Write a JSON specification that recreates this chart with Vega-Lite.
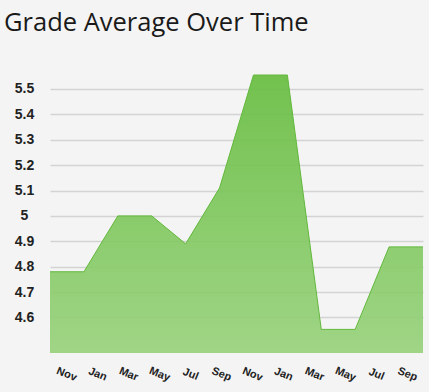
{
  "$schema": "https://vega.github.io/schema/vega-lite/v6.json",
  "autosize": {"type": "none"},
  "width": 373,
  "height": 278,
  "padding": {"left": 50, "top": 75, "right": 6, "bottom": 39},
  "background": "#f4f4f4",
  "title": {"text": "Grade Average Over Time", "anchor": "start", "frame": "group", "dx": -46, "offset": 37, "font": "Open Sans", "fontSize": 25.5, "fontWeight": "normal", "color": "#1a1a1a"},
  "data": {"values": [
    {"i": 0, "month": "Nov", "grade": 4.78},
    {"i": 1, "month": "Jan", "grade": 4.78},
    {"i": 2, "month": "Mar", "grade": 5.0},
    {"i": 3, "month": "May", "grade": 5.0},
    {"i": 4, "month": "Jul", "grade": 4.89},
    {"i": 5, "month": "Sep", "grade": 5.11},
    {"i": 6, "month": "Nov", "grade": 5.555},
    {"i": 7, "month": "Jan", "grade": 5.555},
    {"i": 8, "month": "Mar", "grade": 4.553},
    {"i": 9, "month": "May", "grade": 4.553},
    {"i": 10, "month": "Jul", "grade": 4.878},
    {"i": 11, "month": "Sep", "grade": 4.878}
  ]},
  "config": {"view": {"stroke": null}, "axis": {"domain": false, "ticks": false}},
  "layer": [
    {
      "mark": {"type": "area", "opacity": 0.92, "line": {"color": "#62b83c", "strokeWidth": 1},
        "color": {"gradient": "linear", "x1": 0, "y1": 0, "x2": 0, "y2": 1,
          "stops": [{"offset": 0, "color": "#67bd40"}, {"offset": 1, "color": "#98d27c"}]}},
      "encoding": {
        "x": {"field": "i", "type": "ordinal", "scale": {"type": "point", "padding": 0}, "axis": null},
        "y": {"field": "grade", "type": "quantitative", "scale": {"domain": [4.46, 5.555], "nice": false, "zero": false},
          "axis": {"title": null, "values": [4.6, 4.7, 4.8, 4.9, 5.0, 5.1, 5.2, 5.3, 5.4, 5.5], "labelOverlap": false, "labelExpr": "datum.value == 5 ? '5' : format(datum.value, '.1f')", "labelFont": "Liberation Sans", "labelFontWeight": "bold", "labelFontSize": 14, "labelColor": "#222222", "labelAlign": "center", "labelPadding": 26, "gridColor": "#d3d3d3", "gridWidth": 1.5}},
        "y2": {"datum": 4.46}
      }
    },
    {
      "mark": {"type": "tick", "opacity": 0},
      "encoding": {
        "x": {"field": "i", "type": "ordinal", "scale": {"type": "point", "padding": 0.52},
          "axis": {"title": null, "orient": "bottom", "grid": false, "labelAngle": 22, "labelAlign": "center", "labelBaseline": "middle", "labelPadding": 21, "labelOverlap": false,
            "labelExpr": "['Nov','Jan','Mar','May','Jul','Sep','Nov','Jan','Mar','May','Jul','Sep'][datum.value]",
            "labelFont": "Liberation Sans", "labelFontWeight": "bold", "labelFontSize": 11, "labelColor": "#222222"}}
      }
    }
  ],
  "resolve": {"scale": {"x": "independent", "y": "shared"}}
}
